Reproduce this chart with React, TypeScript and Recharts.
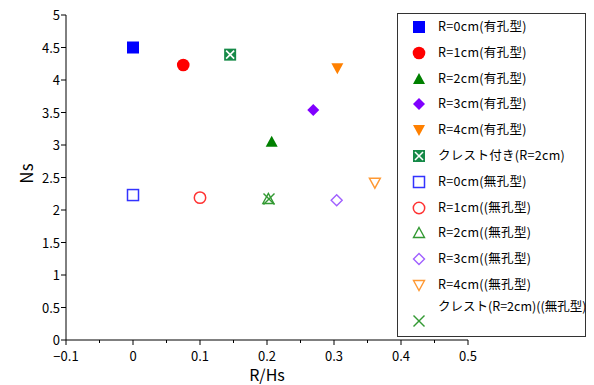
import React from "react";
import { ScatterChart, Scatter, XAxis, YAxis } from "recharts";

const r0Perforated = [{ x: 0, y: 4.5 }];
const r1Perforated = [{ x: 0.075, y: 4.23 }];
const r2Perforated = [{ x: 0.207, y: 3.05 }];
const r3Perforated = [{ x: 0.269, y: 3.54 }];
const r4Perforated = [{ x: 0.305, y: 4.18 }];
const crestPerforated = [{ x: 0.145, y: 4.39 }];
const r0Solid = [{ x: 0, y: 2.23 }];
const r1Solid = [{ x: 0.1, y: 2.19 }];
const r2Solid = [{ x: 0.202, y: 2.17 }];
const r3Solid = [{ x: 0.304, y: 2.15 }];
const r4Solid = [{ x: 0.361, y: 2.42 }];
const crestSolid = [{ x: 0.203, y: 2.17 }];

const seriesNames = [
  "R=0cm(有孔型)",
  "R=1cm(有孔型)",
  "R=2cm(有孔型)",
  "R=3cm(有孔型)",
  "R=4cm(有孔型)",
  "クレスト付き(R=2cm)",
  "R=0cm(無孔型)",
  "R=1cm((無孔型)",
  "R=2cm((無孔型)",
  "R=3cm((無孔型)",
  "R=4cm((無孔型)",
  "クレスト(R=2cm)((無孔型)",
];

const xTicks = [-0.1, -0.05, 0, 0.05, 0.1, 0.15, 0.2, 0.25, 0.3, 0.35, 0.4, 0.45, 0.5];
const yTicks = [0, 0.5, 1, 1.5, 2, 2.5, 3, 3.5, 4, 4.5, 5];

type Kind =
  | "square" | "circle" | "triUp" | "diamond" | "triDown" | "crestBox"
  | "oSquare" | "oCircle" | "oTriUp" | "oDiamond" | "oTriDown" | "cross";

const series: { data: { x: number; y: number }[]; kind: Kind; color: string }[] = [
  { data: r0Perforated, kind: "square", color: "#0000FF" },
  { data: r1Perforated, kind: "circle", color: "#FF0000" },
  { data: r2Perforated, kind: "triUp", color: "#008000" },
  { data: r3Perforated, kind: "diamond", color: "#8000FF" },
  { data: r4Perforated, kind: "triDown", color: "#FF8000" },
  { data: crestPerforated, kind: "crestBox", color: "#168A48" },
  { data: r0Solid, kind: "oSquare", color: "#3333FF" },
  { data: r1Solid, kind: "oCircle", color: "#FF3333" },
  { data: r2Solid, kind: "oTriUp", color: "#339933" },
  { data: r3Solid, kind: "oDiamond", color: "#A060FF" },
  { data: r4Solid, kind: "oTriDown", color: "#FF9933" },
  { data: crestSolid, kind: "cross", color: "#339933" },
];

function Marker({ kind, color, cx, cy }: { kind: Kind; color: string; cx: number; cy: number }) {
  const s = 6;
  switch (kind) {
    case "square":
      return <rect x={cx - s} y={cy - s} width={2 * s} height={2 * s} fill={color} />;
    case "circle":
      return <circle cx={cx} cy={cy} r={6.3} fill={color} />;
    case "triUp":
      return <polygon points={`${cx},${cy - 6} ${cx + 6},${cy + 5} ${cx - 6},${cy + 5}`} fill={color} />;
    case "diamond":
      return <polygon points={`${cx},${cy - 6} ${cx + 6},${cy} ${cx},${cy + 6} ${cx - 6},${cy}`} fill={color} />;
    case "triDown":
      return <polygon points={`${cx - 6},${cy - 5} ${cx + 6},${cy - 5} ${cx},${cy + 6}`} fill={color} />;
    case "crestBox":
      return (
        <g>
          <rect x={cx - 6} y={cy - 6} width={12} height={12} fill={color} />
          <line x1={cx - 4} y1={cy - 4} x2={cx + 4} y2={cy + 4} stroke="#fff" strokeWidth={1.6} />
          <line x1={cx - 4} y1={cy + 4} x2={cx + 4} y2={cy - 4} stroke="#fff" strokeWidth={1.6} />
        </g>
      );
    case "oSquare":
      return <rect x={cx - 5.5} y={cy - 5.5} width={11} height={11} fill="#fff" stroke={color} strokeWidth={1.5} />;
    case "oCircle":
      return <circle cx={cx} cy={cy} r={5.7} fill="none" stroke={color} strokeWidth={1.5} />;
    case "oTriUp":
      return <polygon points={`${cx},${cy - 5.5} ${cx + 5.5},${cy + 4.5} ${cx - 5.5},${cy + 4.5}`} fill="none" stroke={color} strokeWidth={1.4} />;
    case "oDiamond":
      return <polygon points={`${cx},${cy - 5.5} ${cx + 5.5},${cy} ${cx},${cy + 5.5} ${cx - 5.5},${cy}`} fill="none" stroke={color} strokeWidth={1.4} />;
    case "oTriDown":
      return <polygon points={`${cx - 5.5},${cy - 4.5} ${cx + 5.5},${cy - 4.5} ${cx},${cy + 5.5}`} fill="none" stroke={color} strokeWidth={1.4} />;
    case "cross":
      return (
        <g stroke={color} strokeWidth={1.4}>
          <line x1={cx - 5.5} y1={cy - 5.5} x2={cx + 5.5} y2={cy + 5.5} />
          <line x1={cx - 5.5} y1={cy + 5.5} x2={cx + 5.5} y2={cy - 5.5} />
        </g>
      );
  }
  return null;
}

const FONT = "'Noto Sans CJK JP', 'Noto Sans', sans-serif";

function fmt(v: number) {
  const r = Math.round(v * 100) / 100;
  const s = String(r);
  return s.startsWith("-") ? "−" + s.slice(1) : s;
}

function XTick(props: any) {
  const { x, y, payload } = props;
  const v = payload.value;
  const major = Math.abs(Math.round(v * 10) - v * 10) < 1e-6;
  return (
    <g>
      <line x1={x} y1={y} x2={x} y2={y + (major ? 5 : 3)} stroke="#000" strokeWidth={1} />
      {major && (
        <text x={x} y={y + 21} textAnchor="middle" fontSize={13} fontFamily={FONT} fill="#000">
          {fmt(v)}
        </text>
      )}
    </g>
  );
}

function YTick(props: any) {
  const { x, y, payload } = props;
  return (
    <g>
      <line x1={x} y1={y} x2={x - 5} y2={y} stroke="#000" strokeWidth={1} />
      <text x={x - 6} y={y + 5} textAnchor="end" fontSize={13} fontFamily={FONT} fill="#000">
        {fmt(payload.value)}
      </text>
    </g>
  );
}

function XLabel(props: any) {
  const { viewBox } = props;
  return (
    <text
      x={viewBox.x + viewBox.width / 2}
      y={381}
      textAnchor="middle"
      fontSize={16}
      fontFamily={FONT}
      fill="#000"
    >
      R/Hs
    </text>
  );
}

function YLabel(props: any) {
  const { viewBox } = props;
  const cx = 25;
  const cy = viewBox.y + viewBox.height / 2 - 4;
  return (
    <text
      x={cx}
      y={cy}
      transform={`rotate(-90 ${cx} ${cy})`}
      textAnchor="middle"
      dominantBaseline="central"
      fontSize={17}
      fontFamily={FONT}
      fill="#000"
    >
      Ns
    </text>
  );
}

function LegendBox() {
  return (
    <div
      style={{
        position: "absolute",
        left: 397,
        top: 13,
        width: 189,
        height: 324,
        border: "1px solid #333",
        background: "#fff",
        boxSizing: "border-box",
        fontFamily: FONT,
        fontSize: 12.5,
        color: "#000",
      }}
    >
      {series.map((s, i) => {
        const top = 13 + i * 25.8;
        const last = i === 11;
        return (
          <div key={i} style={{ position: "absolute", left: 0, top: top - 10, height: 20, width: 187 }}>
            <svg width={20} height={20} style={{ position: "absolute", left: 11, top: last ? 10 : 0 }}>
              <Marker kind={s.kind} color={s.color} cx={10} cy={10} />
            </svg>
            <span
              style={{
                position: "absolute",
                left: 40,
                top: last ? -3 : 1,
                whiteSpace: "nowrap",
                lineHeight: "16px",
                letterSpacing: last ? 0 : 0.3,
              }}
            >
              {seriesNames[i]}
            </span>
          </div>
        );
      })}
    </div>
  );
}

export default function App() {
  return (
    <div style={{ position: "relative", width: 594, height: 385, margin: "-8px 0 0 -8px", background: "#fff" }}>
      <ScatterChart
        width={594}
        height={385}
        margin={{ top: 15, right: 126, bottom: 15, left: 16 }}
      >
        <XAxis
          type="number"
          dataKey="x"
          domain={[-0.1, 0.5]}
          ticks={xTicks}
          interval={0}
          allowDataOverflow
          height={30}
          stroke="#000"
          tickLine={false}
          tickSize={0}
          tickMargin={0}
          tick={<XTick />}
          label={<XLabel />}
        />
        <YAxis
          type="number"
          dataKey="y"
          domain={[0, 5]}
          ticks={yTicks}
          interval={0}
          width={50}
          stroke="#000"
          tickLine={false}
          tickSize={0}
          tickMargin={0}
          tick={<YTick />}
          label={<YLabel />}
        />
        {series.map((s, i) => (
          <Scatter
            key={i}
            name={seriesNames[i]}
            data={s.data}
            isAnimationActive={false}
            shape={(p: any) => <Marker kind={s.kind} color={s.color} cx={p.cx} cy={p.cy} />}
          />
        ))}
      </ScatterChart>
      <LegendBox />
    </div>
  );
}
